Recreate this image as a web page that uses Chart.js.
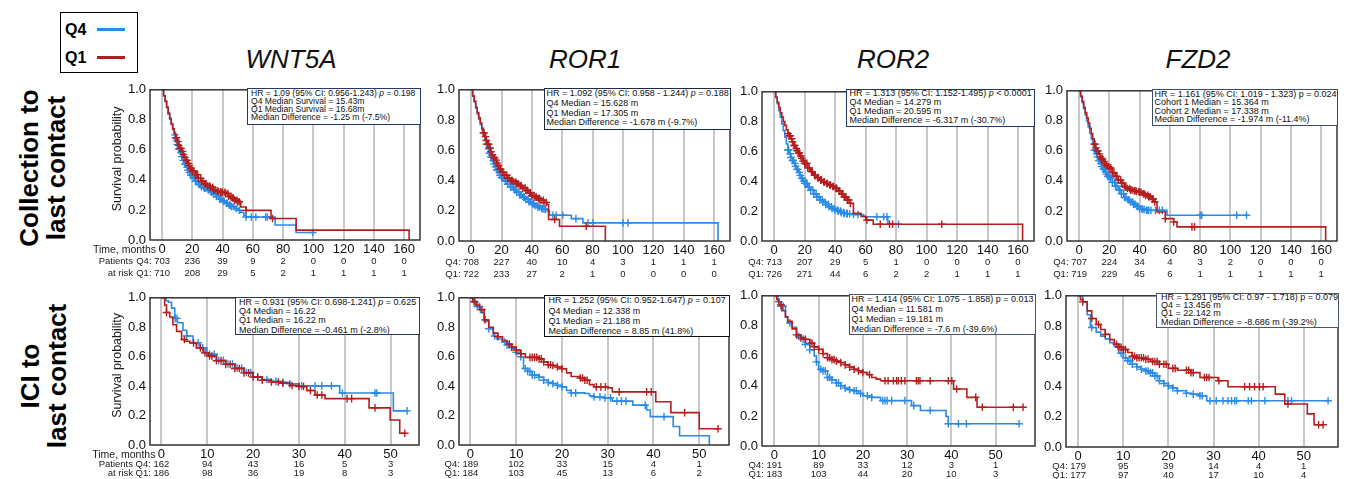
<!DOCTYPE html>
<html>
<head>
<meta charset="utf-8">
<script src="https://cdn.jsdelivr.net/npm/chart.js@4.4.1/dist/chart.umd.min.js"></script>
<style>
  body { margin: 0; background: #fff; font-family: "Liberation Sans", Arial, sans-serif; }
  #page { position: relative; width: 1348px; height: 479px; overflow: hidden; background: #fff; }
  canvas { position: absolute; }
  .gene { position: absolute; width: 200px; text-align: center; font-style: italic; font-size: 26px; line-height: 30px; color: #111; }
  .rowlab { position: absolute; width: 220px; height: 56px; text-align: center; font-weight: bold; font-size: 26px; line-height: 27px; transform: rotate(-90deg); color: #000; }
  .stats { position: absolute; box-sizing: border-box; background: #fff; border: 1.5px solid #2b3a5c; color: #111; white-space: nowrap; overflow: hidden; }
  #legend { position: absolute; left: 60px; top: 12px; width: 78px; height: 61px; box-sizing: border-box; border: 1.5px solid #000; }
  #legend span { position: absolute; left: 4px; font-weight: bold; font-size: 16px; line-height: 18px; }
  #legend i { position: absolute; left: 36px; width: 28px; height: 3px; }
</style>
</head>
<body>
<div id="page">
  <div id="legend">
    <span style="top:8px">Q4</span><i style="top:15px;background:#2a8be6"></i>
    <span style="top:36px">Q1</span><i style="top:43px;background:#b41e1e"></i>
  </div>
  <div class="rowlab" style="left:-66px;top:140px">Collection to<br>last contact</div>
  <div class="rowlab" style="left:-65px;top:348px">ICI to<br>last contact</div>
</div>
<script>
// ---- axis ticks ----
const timeTicksColl = [0, 20, 40, 60, 80, 100, 120, 140, 160];
const timeTicksIci = [0, 10, 20, 30, 40, 50];
const survTicks = [0, 0.2, 0.4, 0.6, 0.8, 1.0];
const genes = ["WNT5A", "ROR1", "ROR2", "FZD2"];

// ---- collection to last contact: [months, survival] step points, censor times, numbers at risk ----
const wnt5aCollQ4 = [[0,1],[1,0.96],[2,0.92],[3,0.88],[4,0.84],[5,0.805],[6,0.77],[7,0.735],[8,0.70],[9,0.665],[10,0.635],[11,0.605],[12,0.58],[13,0.555],[14,0.53],[15,0.505],[16,0.485],[17,0.465],[18,0.45],[19,0.43],[20,0.415],[22,0.39],[24,0.37],[26,0.355],[28,0.345],[30,0.335],[32,0.32],[34,0.305],[36,0.29],[38,0.272],[40,0.26],[42,0.245],[44,0.232],[46,0.222],[48,0.21],[50,0.198],[52,0.185],[54,0.165],[55.4,0.153],[74.7,0.10],[88.6,0.05],[99.6,0.05]];
const wnt5aCollQ1 = [[0,1],[1,0.96],[2,0.925],[3,0.885],[4,0.845],[5,0.81],[6,0.775],[7,0.74],[8,0.71],[9,0.68],[10,0.655],[11,0.63],[12,0.61],[13,0.59],[14,0.57],[15,0.55],[16,0.53],[17,0.51],[18,0.495],[19,0.475],[20,0.46],[22,0.435],[24,0.41],[26,0.39],[28,0.375],[30,0.36],[32,0.35],[34,0.335],[36,0.325],[38,0.32],[40,0.318],[42,0.31],[44,0.29],[46,0.28],[48,0.265],[50,0.255],[52,0.22],[55.4,0.197],[72,0.143],[88.6,0.066],[163.3,0]];
const wnt5aCollQ4Cens = [8.5,9.5,10,11,11.5,12.5,13,14,15,15.5,16.5,17,18,19,19.5,20.5,21.5,22,23,24.5,25,26,27.5,28,29,30.5,31,32.5,33,34,35.5,36,37.5,38,39,40.5,41,42.5,43,44.5,45,46,47.5,49,51,55.5,59,62,68.5,69.6,99.6];
const wnt5aCollQ1Cens = [9,9.5,10.5,11,12,12.5,13.5,14,15,16,16.5,17.5,18,19,20,21,22,22.5,23.5,24,25.5,26,27,28.5,29,30,31.5,32,33.5,34,35,36.5,37,38.5,39,40,41.5,42,43.5,44,45.5,46.5,47,48,49.5,50,51,55.5,73];
const wnt5aCollRiskQ4 = [703, 236, 39, 9, 2, 0, 0, 0, 0];
const wnt5aCollRiskQ1 = [710, 208, 29, 5, 2, 1, 1, 1, 1];

const ror1CollQ4 = [[0,1],[1,0.96],[2,0.92],[3,0.88],[4,0.84],[5,0.805],[6,0.77],[7,0.735],[8,0.70],[9,0.67],[10,0.64],[11,0.61],[12,0.58],[13,0.555],[14,0.53],[15,0.51],[16,0.49],[17,0.47],[18,0.455],[19,0.435],[20,0.42],[22,0.395],[24,0.375],[26,0.355],[28,0.34],[30,0.323],[32,0.305],[34,0.29],[36,0.275],[38,0.26],[40,0.247],[42,0.235],[44,0.225],[46,0.215],[48,0.21],[50,0.2],[51.6,0.17],[66,0.148],[73.6,0.12],[162.6,0]];
const ror1CollQ1 = [[0,1],[1,0.96],[2,0.925],[3,0.885],[4,0.85],[5,0.815],[6,0.78],[7,0.745],[8,0.715],[9,0.69],[10,0.665],[11,0.64],[12,0.615],[13,0.59],[14,0.57],[15,0.55],[16,0.535],[17,0.515],[18,0.5],[19,0.475],[20,0.455],[22,0.435],[24,0.415],[26,0.4],[28,0.39],[30,0.378],[32,0.365],[34,0.35],[36,0.335],[38,0.318],[40,0.3],[42,0.29],[44,0.28],[46,0.27],[48,0.255],[50,0.24],[51,0.142],[58.2,0.098],[88.4,0]];
const ror1CollQ4Cens = [10,10.5,11.5,12,13,13.5,14.5,15,16,17,17.5,18.5,19,20,21,21.5,22.5,23,24,25.5,26,27,28.5,29,30,31.5,32,33,34.5,35,36,37.5,38,39,40.5,41,42,43.5,44,45,46.5,47,48,49,53.8,56,60.4,69,77,80.2,100,103.3];
const ror1CollQ1Cens = [8,8.5,9.5,10,11,11.5,12.5,13,14,15,15.5,16.5,17,18,19,19.5,20.5,21,22,23.5,24,25,26.5,27,28,29.5,30,31,32.5,33,34,35.5,36,37,38.5,39,40,41.5,42,43,44.5,45,46,47.5,48,49.5,55,75.8];
const ror1CollRiskQ4 = [708, 227, 40, 10, 4, 3, 1, 1, 1];
const ror1CollRiskQ1 = [722, 233, 27, 2, 1, 0, 0, 0, 0];

const ror2CollQ4 = [[0,1],[1,0.96],[2,0.92],[3,0.875],[4,0.83],[5,0.785],[6,0.74],[7,0.695],[8,0.65],[9,0.61],[10,0.585],[11,0.56],[12,0.54],[13,0.52],[14,0.5],[15,0.48],[16,0.46],[17,0.44],[18,0.42],[19,0.4],[20,0.386],[22,0.36],[24,0.34],[26,0.315],[28,0.295],[30,0.275],[32,0.26],[34,0.245],[36,0.23],[38,0.218],[40,0.208],[42,0.2],[44,0.19],[46,0.185],[48,0.183],[50,0.18],[52,0.178],[58.6,0.163],[74.6,0.112],[82.7,0.112]];
const ror2CollQ1 = [[0,1],[1,0.965],[2,0.93],[3,0.895],[4,0.86],[5,0.83],[6,0.8],[7,0.775],[8,0.745],[9,0.72],[10,0.705],[11,0.685],[12,0.665],[13,0.64],[14,0.62],[15,0.605],[16,0.59],[17,0.57],[18,0.555],[19,0.535],[20,0.52],[22,0.49],[24,0.465],[26,0.44],[28,0.425],[30,0.41],[32,0.395],[34,0.385],[36,0.375],[38,0.365],[40,0.353],[42,0.335],[44,0.315],[46,0.295],[48,0.275],[50,0.252],[52,0.185],[57,0.165],[60,0.14],[65,0.112],[163,0]];
const ror2CollQ4Cens = [9,9.5,10.5,11,12,12.5,13.5,14,15,15.5,16.5,17,18,18.5,19.5,20,21,21.5,22.5,23,24,25.5,26,27.5,28,29.5,30,31.5,32,33.5,34,35.5,36,37.5,38,39.5,40,41.5,42,43.5,44,45.5,46,47.5,48,49.5,52,55,67.4,71.8,74,81.6];
const ror2CollQ1Cens = [9,10,10.5,11.5,12,13,13.5,14.5,15,16,16.5,17.5,18,19,20,20.5,21.5,22,23,24.5,25,26.5,27,28.5,29,30.5,31,32.5,33,34.5,35,36.5,37,38.5,39,40.5,41,42.5,43,44.5,45,46,47,48,49,50,60.8,69.6,75.7,77.7,110];
const ror2CollRiskQ4 = [713, 207, 29, 5, 1, 0, 0, 0, 0];
const ror2CollRiskQ1 = [726, 271, 44, 6, 2, 2, 1, 1, 1];

const fzd2CollQ4 = [[0,1],[1,0.96],[2,0.92],[3,0.88],[4,0.84],[5,0.8],[6,0.76],[7,0.72],[8,0.68],[9,0.64],[10,0.605],[11,0.58],[12,0.56],[13,0.535],[14,0.515],[15,0.495],[16,0.48],[17,0.46],[18,0.445],[19,0.43],[20,0.42],[22,0.39],[24,0.365],[26,0.34],[28,0.315],[30,0.29],[32,0.275],[34,0.26],[36,0.245],[38,0.23],[40,0.215],[42,0.21],[44,0.205],[46,0.204],[58.1,0.171],[110.7,0.171]];
const fzd2CollQ1 = [[0,1],[1,0.965],[2,0.93],[3,0.89],[4,0.855],[5,0.82],[6,0.785],[7,0.75],[8,0.715],[9,0.68],[10,0.645],[11,0.62],[12,0.6],[13,0.58],[14,0.56],[15,0.545],[16,0.53],[17,0.515],[18,0.505],[19,0.495],[20,0.485],[22,0.455],[24,0.43],[26,0.405],[28,0.385],[30,0.36],[32,0.35],[34,0.34],[36,0.335],[38,0.33],[40,0.325],[42,0.315],[44,0.305],[46,0.295],[48,0.28],[50,0.26],[51.5,0.193],[57,0.149],[62.5,0.127],[64.7,0.094],[163,0]];
const fzd2CollQ4Cens = [10,10.5,11.5,12,13,13.5,14.5,15,16,16.5,17.5,18,19,19.5,20.5,21,22,23.5,24,25,26.5,27,28,29.5,30,31,32.5,33,34,35.5,36,37,38.5,39,40,41.5,42,43,44.5,45,46,47.5,50.5,53,55,80,81.1,104.2,110.7];
const fzd2CollQ1Cens = [10,10.5,11,12,12.5,13.5,14,15,15.5,16.5,17,18,19,19.5,20.5,21,22,23,24.5,25,26,27.5,28,29,30.5,31,32,33.5,34,35,36.5,37,38,39.5,40,41,42.5,43,44,45.5,46,47,48.5,49,50,57,62.5,74.6,76.3];
const fzd2CollRiskQ4 = [707, 224, 34, 4, 3, 2, 0, 0, 0];
const fzd2CollRiskQ1 = [719, 229, 45, 6, 1, 1, 1, 1, 1];

// ---- ICI to last contact ----
const wnt5aIciQ4 = [[0,1],[1,0.98],[1.5,0.97],[2.2,0.93],[2.9,0.86],[3.5,0.83],[4.7,0.78],[5.5,0.74],[6.9,0.695],[8.4,0.66],[9.9,0.616],[12,0.575],[14,0.55],[16,0.522],[18,0.493],[20,0.464],[22,0.445],[24,0.432],[26,0.426],[28,0.415],[30,0.402],[38.9,0.353],[50.6,0.232],[53.6,0.232]];
const wnt5aIciQ1 = [[0,1],[0.7,0.95],[1.1,0.9],[1.8,0.87],[2.5,0.817],[3.3,0.772],[4.4,0.717],[5.1,0.705],[6.2,0.694],[7.6,0.66],[9.1,0.627],[10.2,0.605],[12,0.572],[14,0.548],[16,0.52],[18,0.49],[20,0.462],[22,0.44],[24,0.428],[26,0.42],[28,0.404],[30,0.397],[31.7,0.37],[33.5,0.34],[35.7,0.315],[45.3,0.252],[49.9,0.17],[52,0.08],[53.1,0.08]];
const wnt5aIciQ4Cens = [3,3.4,5.5,8,9,10.5,11.5,12.5,13.5,14.5,15.5,16.5,17.5,18.5,19.5,21,23,25,26.5,28,30.6,33.5,35,37.1,39.5,46.6,47,53.6];
const wnt5aIciQ1Cens = [1.1,5,7,8.5,9.5,10.5,11,12,13,14,15,16,17,18,19,20,21,22,24,25.5,26.5,28.5,30,31,32.5,34,35,40.5,41.5,46.6,53.1];
const wnt5aIciRiskQ4 = [162, 94, 43, 16, 5, 3];
const wnt5aIciRiskQ1 = [186, 98, 36, 19, 8, 3];

const ror1IciQ4 = [[0,1],[0.7,0.97],[1.5,0.94],[2.2,0.9],[3,0.84],[4,0.79],[5,0.74],[5.8,0.72],[7,0.70],[8,0.68],[9,0.655],[10,0.63],[11,0.6],[11.6,0.52],[12.5,0.5],[13.5,0.475],[15,0.46],[16,0.44],[17,0.425],[18,0.417],[19,0.405],[20,0.395],[21,0.37],[22,0.354],[25,0.35],[26,0.335],[27,0.327],[29,0.32],[31,0.298],[35.5,0.271],[38.5,0.238],[39.3,0.193],[44.3,0.126],[45.7,0.063],[52.2,0]];
const ror1IciQ1 = [[0,1],[0.5,0.975],[1.2,0.95],[2,0.92],[3,0.85],[4,0.8],[5,0.76],[6,0.735],[7,0.71],[8,0.685],[9,0.665],[10,0.645],[11,0.62],[12,0.595],[15,0.585],[16,0.565],[17,0.545],[18,0.54],[19,0.53],[20,0.518],[21,0.49],[22,0.465],[24,0.455],[25,0.44],[26,0.41],[27,0.395],[30,0.388],[31,0.361],[40.5,0.294],[43.8,0.22],[50,0.11],[54.1,0.11]];
const ror1IciQ4Cens = [1,1.5,2,4,5.3,7.5,8,8.5,10,11,12,12.5,13,13.5,14,15,16,17,18,19,20,22,23,27,28.3,29.4,30.6,32,33,34,38.2,42.3];
const ror1IciQ1Cens = [0.8,2.5,3.2,6,8.5,9,10,11,13,13.5,14,14.5,15,15.5,16,17,17.5,18,19,20,24,24.5,25,25.5,27.5,28.5,29.5,32.5,38.5,39.5,46.8,54.1];
const ror1IciRiskQ4 = [189, 102, 33, 15, 4, 1];
const ror1IciRiskQ1 = [184, 103, 45, 13, 6, 2];

const ror2IciQ4 = [[0,1],[0.8,0.96],[1.5,0.93],[2.5,0.86],[3,0.82],[4,0.79],[5,0.73],[6,0.71],[7,0.676],[8,0.64],[9,0.6],[9.5,0.56],[10,0.51],[11,0.5],[12,0.456],[13,0.44],[14,0.42],[15,0.4],[16,0.385],[17,0.375],[18,0.368],[19,0.35],[20,0.335],[22,0.324],[24,0.302],[31,0.269],[33,0.236],[38.8,0.196],[39.3,0.148],[55.3,0.148]];
const ror2IciQ1 = [[0,1],[0.5,0.975],[1,0.94],[1.7,0.9],[2.5,0.86],[3,0.83],[4,0.78],[5,0.74],[6,0.72],[7,0.71],[8,0.685],[9,0.66],[10,0.643],[11,0.615],[12,0.588],[13,0.575],[14,0.565],[15,0.555],[16,0.54],[17,0.525],[18,0.511],[19,0.5],[20,0.489],[21,0.475],[22,0.456],[23,0.445],[24,0.434],[40.5,0.379],[43.5,0.324],[45.8,0.258],[56.2,0.258]];
const ror2IciQ4Cens = [1,1.5,2,3.5,5.5,6.5,7,8,9.5,10.5,11,11.5,12,12.5,13,14,14.5,15,16,17,18,18.5,19.5,21,22,24.5,25,25.5,26.5,29.5,31.5,35.2,39.3,41.6,43.4,55.3];
const ror2IciQ1Cens = [1.5,5,6,7,8,8.5,9,10,11,12,12.5,13,13.5,14,15,16,17,18,19,20,21.5,25,25.7,26.9,27.6,28,28.7,29.5,32.1,32.5,32.9,35.2,39.3,40.1,41.2,45.5,47,54,56.2];
const ror2IciRiskQ4 = [191, 89, 33, 12, 3, 1];
const ror2IciRiskQ1 = [183, 103, 44, 20, 10, 3];

const fzd2IciQ4 = [[0,1],[1,0.96],[2,0.875],[2.7,0.8],[3,0.79],[4,0.76],[5,0.733],[6,0.715],[7,0.69],[8,0.665],[9,0.62],[10,0.59],[11,0.57],[12,0.547],[13,0.53],[14,0.515],[15,0.503],[16,0.49],[17,0.47],[18,0.438],[19,0.42],[20,0.405],[21,0.39],[22,0.372],[24,0.355],[25,0.35],[27,0.339],[28.5,0.306],[55.4,0.306]];
const fzd2IciQ1 = [[0,1],[0.5,0.975],[1,0.96],[2,0.9],[3,0.85],[4,0.81],[5,0.777],[6,0.745],[7,0.71],[8,0.68],[9,0.66],[10,0.645],[11,0.625],[12,0.6],[13,0.59],[15,0.58],[16,0.565],[18,0.547],[20,0.52],[22,0.508],[25,0.492],[27,0.46],[31,0.438],[33.2,0.398],[43.7,0.35],[45.8,0.284],[50.8,0.219],[52.3,0.147],[54.3,0.147]];
const fzd2IciQ4Cens = [3,8.8,9.5,10.5,11,11.5,12,13,14,15,15.5,16,16.5,17,17.5,18,19,20,21,22,24,25.5,27,27.5,29.2,30.6,32.1,33.2,34,34.7,35.1,37.7,38.4,41.4,46.5,47.3,55.4];
const fzd2IciQ1Cens = [1,3,4.5,6,8.5,9,9.5,10,10.5,12,12.5,13,13.5,14,14.5,15,15.5,16.5,17,17.5,18,19,19.5,21,21.5,24,24.5,25,25.5,28,28.5,29,31.2,36.9,38,39.1,40.2,41,46.5,53.3,54.3];
const fzd2IciRiskQ4 = [179, 95, 39, 14, 4, 1];
const fzd2IciRiskQ1 = [177, 97, 40, 17, 10, 4];

// ---- stats box texts ----
const wnt5aCollStats = ["HR = 1.09 (95% CI: 0.956-1.243) p = 0.198", "Q4 Median Survival = 15.43m", "Q1 Median Survival = 16.68m", "Median Difference = -1.25 m (-7.5%)"];
const ror1CollStats = ["HR = 1.092 (95% CI: 0.958 - 1.244) p = 0.188", "Q4 Median = 15.628 m", "Q1 Median = 17.305 m", "Median Difference = -1.678 m (-9.7%)"];
const ror2CollStats = ["HR = 1.313 (95% CI: 1.152-1.495) p < 0.0001", "Q4 Median = 14.279 m", "Q1 Median = 20.595 m", "Median Difference = -6.317 m (-30.7%)"];
const fzd2CollStats = ["HR = 1.161 (95% CI: 1.019 - 1.323) p = 0.024", "Cohort 1 Median = 15.364 m", "Cohort 2 Median = 17.338 m", "Median Difference = -1.974 m (-11.4%)"];
const wnt5aIciStats = ["HR = 0.931 (95% CI: 0.698-1.241) p = 0.625", "Q4 Median = 16.22", "Q1 Median = 16.22 m", "Median Difference = -0.461 m (-2.8%)"];
const ror1IciStats = ["HR = 1.252 (95% CI: 0.952-1.647) p = 0.107", "Q4 Median = 12.338 m", "Q1 Median = 21.188 m", "Median Difference = 8.85 m (41.8%)"];
const ror2IciStats = ["HR = 1.414 (95% CI: 1.075 - 1.858) p = 0.013", "Q4 Median = 11.581 m", "Q1 Median = 19.181 m", "Median Difference = -7.6 m (-39.6%)"];
const fzd2IciStats = ["HR = 1.291 (95% CI: 0.97 - 1.718) p = 0.079", "Q4 = 13.456 m", "Q1 = 22.142 m", "Median Difference = -8.686 m (-39.2%)"];

const blue = "#2a8be6";
const red = "#b41e1e";
const fontStack = '"Liberation Sans", Arial, sans-serif';
Chart.defaults.font.family = fontStack;

// layout of each panel: plot area [left, top, right, bottom] in page pixels, stats box [l, t, w, h]
const panels = [
  { plot: [150, 88, 420, 240], xr: [-8, 170.5], ticks: timeTicksColl, q4: wnt5aCollQ4, q1: wnt5aCollQ1, c4: wnt5aCollQ4Cens, c1: wnt5aCollQ1Cens, r4: wnt5aCollRiskQ4, r1: wnt5aCollRiskQ1, stats: wnt5aCollStats, first: true, rows: [10, 21.7, 33.7],
    box: [247, 88, 174, 37], fs: 8.6, lh: 7.9, pt: 1, pl: 3, it: true, bc: "#24386a" },
  { plot: [459, 88, 730, 241], xr: [-8, 170.5], ticks: timeTicksColl, q4: ror1CollQ4, q1: ror1CollQ1, c4: ror1CollQ4Cens, c1: ror1CollQ1Cens, r4: ror1CollRiskQ4, r1: ror1CollRiskQ1, stats: ror1CollStats, first: false, rows: [10, 21.7, 33.7],
    box: [544, 88, 187, 42], fs: 9, lh: 9.8, pt: 0, pl: 1.5, it: true, bc: "#1e2a44" },
  { plot: [762, 90, 1034, 241], xr: [-8, 170.5], ticks: timeTicksColl, q4: ror2CollQ4, q1: ror2CollQ1, c4: ror2CollQ4Cens, c1: ror2CollQ1Cens, r4: ror2CollRiskQ4, r1: ror2CollRiskQ1, stats: ror2CollStats, first: false, rows: [10, 21.7, 33.7],
    box: [846, 89, 189, 38], fs: 9, lh: 8.9, pt: -0.6, pl: 2.5, it: true, bc: "#24386a" },
  { plot: [1067, 89, 1337, 241], xr: [-8, 170.5], ticks: timeTicksColl, q4: fzd2CollQ4, q1: fzd2CollQ1, c4: fzd2CollQ4Cens, c1: fzd2CollQ1Cens, r4: fzd2CollRiskQ4, r1: fzd2CollRiskQ1, stats: fzd2CollStats, first: false, rows: [10, 21.7, 33.7],
    box: [1152, 89, 186, 37], fs: 9, lh: 8.6, pt: -0.5, pl: 1.5, it: false, bc: "#3c4a66" },
  { plot: [150, 296, 419, 445], xr: [-2.5, 56.2], ticks: timeTicksIci, q4: wnt5aIciQ4, q1: wnt5aIciQ1, c4: wnt5aIciQ4Cens, c1: wnt5aIciQ1Cens, r4: wnt5aIciRiskQ4, r1: wnt5aIciRiskQ1, stats: wnt5aIciStats, first: true, rows: [9.7, 19, 28.7],
    box: [235, 297, 185, 38], fs: 9, lh: 9.3, pt: -0.4, pl: 3, it: true, bc: "#2a3a5a" },
  { plot: [459, 296, 729, 445], xr: [-2.5, 56.5], ticks: timeTicksIci, q4: ror1IciQ4, q1: ror1IciQ1, c4: ror1IciQ4Cens, c1: ror1IciQ1Cens, r4: ror1IciRiskQ4, r1: ror1IciRiskQ1, stats: ror1IciStats, first: false, rows: [9.7, 19, 28.7],
    box: [544, 295, 186, 42], fs: 9, lh: 10.4, pt: -0.8, pl: 3.5, it: true, bc: "#111" },
  { plot: [762, 294, 1035, 446], xr: [-2.8, 58.9], ticks: timeTicksIci, q4: ror2IciQ4, q1: ror2IciQ1, c4: ror2IciQ4Cens, c1: ror2IciQ1Cens, r4: ror2IciRiskQ4, r1: ror2IciRiskQ1, stats: ror2IciStats, first: false, rows: [9.7, 19, 28.7],
    box: [849, 294, 187, 41], fs: 9, lh: 10, pt: -1.5, pl: 1.5, it: false, bc: "#4a5670" },
  { plot: [1066, 294, 1338, 447], xr: [-2.7, 57.6], ticks: timeTicksIci, q4: fzd2IciQ4, q1: fzd2IciQ1, c4: fzd2IciQ4Cens, c1: fzd2IciQ1Cens, r4: fzd2IciRiskQ4, r1: fzd2IciRiskQ1, stats: fzd2IciStats, first: false, rows: [9.7, 19, 28.7],
    box: [1156, 293, 183, 35], fs: 9, lh: 8.3, pt: -1.3, pl: 4, it: false, bc: "#4a5670" }
];
const titleCenters = [291, 585, 893, 1198];

// value of the KM step function at time t
function stepAt(curve, t) {
  let s = curve[0][1];
  for (const [x, y] of curve) {
    if (x <= t) s = y; else break;
  }
  return s;
}

const kmDecor = {
  id: "kmDecor",
  afterDraw(chart, args, o) {
    const { ctx, chartArea: a, scales: { x } } = chart;
    ctx.save();
    ctx.strokeStyle = "#333";
    ctx.lineWidth = 1.5;
    ctx.strokeRect(a.left, a.top, a.right - a.left, a.bottom - a.top);

    ctx.fillStyle = "#1a1a1a";
    ctx.textBaseline = "middle";
    ctx.font = "9.5px " + fontStack;
    const y4 = a.bottom + o.rows[1], y1 = a.bottom + o.rows[2];
    ctx.textAlign = "center";
    o.ticks.forEach((t, i) => {
      const px = x.getPixelForValue(t);
      ctx.fillText(String(o.r4[i]), px, y4);
      ctx.fillText(String(o.r1[i]), px, y1);
    });
    const p0 = x.getPixelForValue(o.ticks[0]);
    ctx.textAlign = "right";
    ctx.fillText("Q4: ", p0 - ctx.measureText(String(o.r4[0])).width / 2, y4);
    ctx.fillText("Q1: ", p0 - ctx.measureText(String(o.r1[0])).width / 2, y1);
    if (o.first) {
      ctx.fillText("Patients", a.left - 17, y4);
      ctx.fillText("at risk", a.left - 17, y1);
      ctx.font = "10.5px " + fontStack;
      ctx.fillText("Time, months", p0 - 6, a.bottom + o.rows[0]);
      ctx.font = "12.5px " + fontStack;
      ctx.translate(a.left - 32, (a.top + a.bottom) / 2 - 6);
      ctx.rotate(-Math.PI / 2);
      ctx.textAlign = "center";
      ctx.fillText("Survival probability", 0, 0);
    }
    ctx.restore();
  }
};

const page = document.getElementById("page");

genes.forEach((g, i) => {
  const d = document.createElement("div");
  d.className = "gene";
  d.textContent = g;
  d.style.left = (titleCenters[i] - 100) + "px";
  d.style.top = "44px";
  page.appendChild(d);
});

// Chart.js "before": horizontal run first, then the drop at the next event time
function lineSet(curve, color) {
  return { data: curve.map(([x, y]) => ({ x, y })), stepped: "before", borderColor: color, borderWidth: 1.6,
    pointRadius: 0, fill: false, tension: 0 };
}
function censSet(times, curve, color) {
  return { type: "scatter", data: times.map(t => ({ x: t, y: stepAt(curve, t) })), pointStyle: "cross",
    pointRadius: 3.8, pointBorderColor: color, pointBorderWidth: 1.4, borderColor: color, backgroundColor: color };
}

panels.forEach(p => {
  const [L, T, R, B] = p.plot;
  const yw = p.first ? 60 : 36, pt = 10, pr = 6, xh = 42;
  const w = yw + (R - L) + pr, h = pt + (B - T) + xh;
  const cv = document.createElement("canvas");
  cv.width = w; cv.height = h;
  cv.style.left = (L - yw) + "px";
  cv.style.top = (T - pt) + "px";
  cv.style.width = w + "px";
  cv.style.height = h + "px";
  page.appendChild(cv);

  new Chart(cv.getContext("2d"), {
    type: "line",
    data: {
      datasets: [
        censSet(p.c1, p.q1, red),
        lineSet(p.q1, red),
        censSet(p.c4, p.q4, blue),
        lineSet(p.q4, blue)
      ]
    },
    options: {
      responsive: false,
      animation: false,
      events: [],
      layout: { padding: { left: 0, top: pt, right: pr, bottom: 0 } },
      plugins: {
        legend: { display: false },
        tooltip: { enabled: false },
        kmDecor: { ticks: p.ticks, r4: p.r4, r1: p.r1, first: p.first, rows: p.rows }
      },
      scales: {
        x: {
          type: "linear", min: p.xr[0], max: p.xr[1],
          afterFit: s => { s.height = xh; },
          afterBuildTicks: s => { s.ticks = p.ticks.map(v => ({ value: v })); },
          grid: { color: "#c8c8c8", lineWidth: 2, drawTicks: false },
          border: { display: false },
          ticks: { padding: 2, font: { size: 13 }, color: "#111", maxRotation: 0, autoSkip: false, callback: v => String(v) }
        },
        y: {
          min: 0, max: 1,
          afterFit: s => { s.width = yw; },
          afterBuildTicks: s => { s.ticks = survTicks.map(v => ({ value: v })); },
          grid: { display: false, drawTicks: false },
          border: { display: false },
          ticks: { padding: 4, font: { size: 13 }, color: "#111", callback: v => v.toFixed(1) }
        }
      }
    },
    plugins: [kmDecor]
  });

  const box = document.createElement("div");
  box.className = "stats";
  box.style.left = p.box[0] + "px";
  box.style.top = p.box[1] + "px";
  box.style.width = p.box[2] + "px";
  box.style.height = p.box[3] + "px";
  box.style.borderColor = p.bc;
  box.style.fontSize = p.fs + "px";
  box.style.lineHeight = p.lh + "px";
  const inner = document.createElement("div");
  inner.style.position = "relative";
  inner.style.top = p.pt + "px";
  inner.style.paddingLeft = p.pl + "px";
  p.stats.forEach((line, i) => {
    const ln = document.createElement("div");
    if (i === 0 && p.it) {
      const parts = line.split(") p ");
      ln.appendChild(document.createTextNode(parts[0] + ") "));
      const em = document.createElement("i");
      em.textContent = "p";
      ln.appendChild(em);
      ln.appendChild(document.createTextNode(" " + parts[1]));
    } else {
      ln.textContent = line;
    }
    inner.appendChild(ln);
  });
  box.appendChild(inner);
  page.appendChild(box);
});
</script>
</body>
</html>
